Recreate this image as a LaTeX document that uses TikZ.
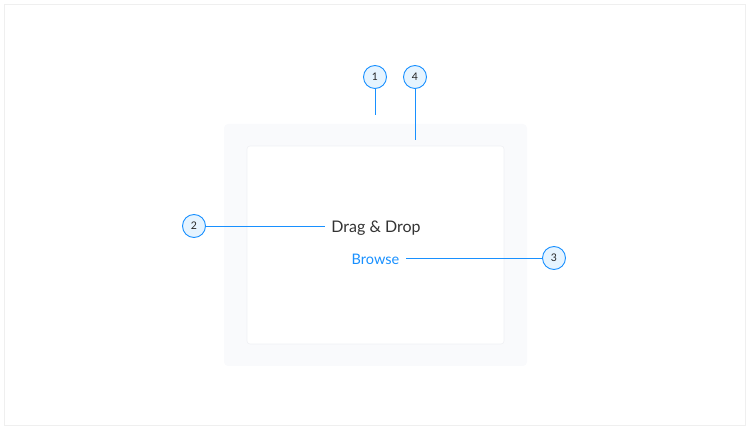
\documentclass[tikz,border=0pt]{standalone}
\usepackage{fontspec}
\setmainfont{Lato}
\definecolor{blu}{HTML}{1890FF}
\definecolor{cfill}{HTML}{E6F4FF}
\definecolor{frame}{HTML}{EFEFEF}
\definecolor{outerg}{HTML}{F9FAFC}
\definecolor{innerb}{HTML}{F0F1F4}
\definecolor{txt}{HTML}{333333}
\tikzset{
  callout/.style={circle, draw=blu, fill=cfill, line width=0.9pt, minimum size=23pt, inner sep=0pt, font=\fontsize{10.5}{12}\selectfont, text=black!85},
  lead/.style={draw=blu, line width=0.9pt},
}
\begin{document}
\begin{tikzpicture}[x=1pt,y=-1pt]
\useasboundingbox (0,0) rectangle (750,430);
\draw[frame, line width=1pt] (4.5,4.5) rectangle (745.5,425.5);
\fill[outerg, rounded corners=4pt] (224,124) rectangle (527,366);
\filldraw[fill=white, draw=innerb, line width=0.6pt, rounded corners=3pt] (247,146) rectangle (504,344);
\node[font=\fontsize{16}{19}\selectfont, text=txt, inner sep=0pt] (drag) at (376,228.5) {Drag \& Drop};
\node[font=\fontsize{14.5}{17}\selectfont, text=blu, inner sep=0pt] (browse) at (375.5,259) {Browse};
\node[callout] (c1) at (375,77) {1};
\node[callout] (c4) at (415,77) {4};
\node[callout] (c2) at (194,226) {2};
\node[callout] (c3) at (554,258) {3};
\coordinate (e1) at (375,115);
\coordinate (e4) at (415,140);
\draw[lead] (c1.south) -- (e1);
\draw[lead] (c4.south) -- (e4);
\draw[lead] (c2.east) -- ([xshift=-6pt]drag.west |- c2.east);
\draw[lead] ([xshift=7pt]browse.east |- c3.west) -- (c3.west);
\end{tikzpicture}
\end{document}
